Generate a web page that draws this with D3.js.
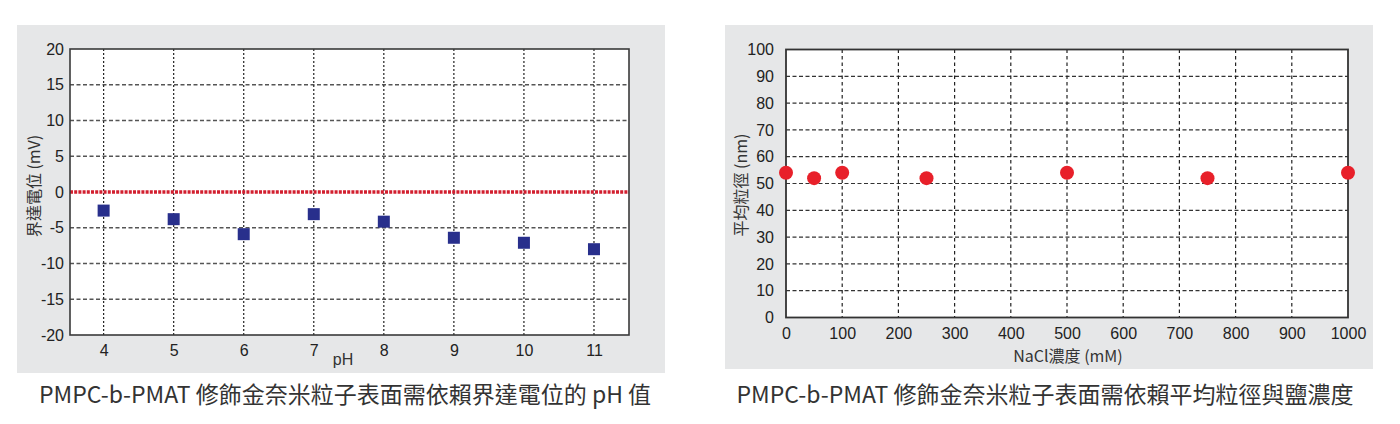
<!DOCTYPE html>
<html><head><meta charset="utf-8">
<script src="https://cdn.jsdelivr.net/npm/d3@7"></script>
<style>
body{margin:0;background:#fff;}
.num{font-family:"Liberation Sans",Arial,sans-serif;}
.cjk{font-family:"Noto Sans CJK TC","Noto Sans",sans-serif;}
</style></head><body>
<svg id="c" width="1400" height="424"></svg>
<script>
// Chart 1: zeta potential vs pH
const phValues = [4, 5, 6, 7, 8, 9, 10, 11];
const zetaValues = [-2.6, -3.8, -5.9, -3.1, -4.15, -6.4, -7.1, -8.0];
const zetaTicks = [20, 15, 10, 5, 0, -5, -10, -15, -20];
const phTicks = [4, 5, 6, 7, 8, 9, 10, 11];
// Chart 2: mean size vs NaCl
const naclValues = [0, 50, 100, 250, 500, 750, 1000];
const sizeValues = [54, 52, 54, 52, 54, 52, 54];
const sizeTicks = [0, 10, 20, 30, 40, 50, 60, 70, 80, 90, 100];
const naclTicks = [0, 100, 200, 300, 400, 500, 600, 700, 800, 900, 1000];

const fmt = d => String(d);
const svg = d3.select("#c");
function styleAxis(a){
  a.select(".domain").remove();
  a.attr("font-family", null).attr("font-size", null);
  a.selectAll("text").attr("class","num")
    .style("font-family","'Liberation Sans', Arial, sans-serif")
    .style("font-size","16px").attr("fill","#222");
}

// ---------- Chart 1 ----------
svg.append("rect").attr("x",17).attr("y",25).attr("width",648).attr("height",348).attr("fill","#e6e7e8");
const x1 = d3.scaleLinear().domain([3.52, 11.5]).range([70, 629]);
const y1 = d3.scaleLinear().domain([-20, 20]).range([335, 49]);
const g1 = svg.append("g");
g1.append("rect").attr("x",70).attr("y",49).attr("width",559).attr("height",286).attr("fill","#fff");
g1.selectAll(".hg").data(zetaTicks.filter(d=>d!==0 && Math.abs(d)!==20)).join("line")
  .attr("x1",70).attr("x2",629).attr("y1",d=>y1(d)).attr("y2",d=>y1(d))
  .attr("stroke","#555").attr("stroke-width",1.3).attr("stroke-dasharray","4,2.5");
g1.selectAll(".vg").data(phTicks).join("line")
  .attr("x1",d=>x1(d)).attr("x2",d=>x1(d)).attr("y1",49).attr("y2",335)
  .attr("stroke","#222").attr("stroke-width",1.2).attr("stroke-dasharray","2,2");
g1.append("line").attr("x1",70).attr("x2",629).attr("y1",y1(0)).attr("y2",y1(0))
  .attr("stroke","#d21f2f").attr("stroke-width",3.5).attr("stroke-dasharray","3,1.2");
g1.append("rect").attr("x",70).attr("y",49).attr("width",559).attr("height",286)
  .attr("fill","none").attr("stroke","#3a3a3a").attr("stroke-width",1.6);
const ax1 = g1.append("g").attr("transform","translate(70,0)")
  .call(d3.axisLeft(y1).tickValues(zetaTicks).tickFormat(fmt).tickSize(0).tickPadding(6));
styleAxis(ax1);
const bx1 = g1.append("g").attr("transform","translate(0,335)")
  .call(d3.axisBottom(x1).tickValues(phTicks).tickFormat(fmt).tickSize(0).tickPadding(10));
styleAxis(bx1);
g1.selectAll(".pt").data(phValues).join("rect")
  .attr("x",(d)=>x1(d)-6).attr("y",(d,i)=>y1(zetaValues[i])-6)
  .attr("width",12).attr("height",12).attr("fill","#282f8c");
g1.append("text").attr("class","num").attr("x",343).attr("y",365).attr("text-anchor","middle")
  .attr("font-size",16).attr("fill","#333").text("pH");
g1.append("text").attr("class","cjk").attr("transform","translate(40,186) rotate(-90)")
  .attr("text-anchor","middle").attr("font-size",16).attr("fill","#333").text("界達電位 (mV)");
svg.append("text").attr("class","cjk").attr("x",345).attr("y",403).attr("text-anchor","middle")
  .attr("font-size",23).attr("fill","#333").text("PMPC-b-PMAT 修飾金奈米粒子表面需依賴界達電位的 pH 值");

// ---------- Chart 2 ----------
svg.append("rect").attr("x",725).attr("y",25).attr("width",648).attr("height",344).attr("fill","#e6e7e8");
const x2 = d3.scaleLinear().domain([0, 1000]).range([786, 1348]);
const y2 = d3.scaleLinear().domain([0, 100]).range([317.5, 49.5]);
const g2 = svg.append("g");
g2.append("rect").attr("x",786).attr("y",49.5).attr("width",562).attr("height",268).attr("fill","#fff");
g2.selectAll(".hg").data(sizeTicks.filter(d=>d>0 && d<100)).join("line")
  .attr("x1",786).attr("x2",1348).attr("y1",d=>y2(d)).attr("y2",d=>y2(d))
  .attr("stroke","#333").attr("stroke-width",1.2).attr("stroke-dasharray","4,2.5");
g2.selectAll(".vg").data(naclTicks.filter(d=>d>0 && d<1000)).join("line")
  .attr("x1",d=>x2(d)).attr("x2",d=>x2(d)).attr("y1",49.5).attr("y2",317.5)
  .attr("stroke","#222").attr("stroke-width",1.2).attr("stroke-dasharray","3.5,3");
g2.append("rect").attr("x",786).attr("y",49.5).attr("width",562).attr("height",268)
  .attr("fill","none").attr("stroke","#333").attr("stroke-width",1.8);
const ax2 = g2.append("g").attr("transform","translate(786,0)")
  .call(d3.axisLeft(y2).tickValues(sizeTicks).tickFormat(fmt).tickSize(0).tickPadding(12));
styleAxis(ax2);
const bx2 = g2.append("g").attr("transform","translate(0,317.5)")
  .call(d3.axisBottom(x2).tickValues(naclTicks).tickFormat(fmt).tickSize(0).tickPadding(10));
styleAxis(bx2);
g2.selectAll(".pt").data(naclValues).join("circle")
  .attr("cx",d=>x2(d)).attr("cy",(d,i)=>y2(sizeValues[i])).attr("r",7).attr("fill","#e8202a");
g2.append("text").attr("class","cjk").attr("x",1068).attr("y",362).attr("text-anchor","middle")
  .attr("font-size",16).attr("fill","#333").text("NaCl濃度 (mM)");
g2.append("text").attr("class","cjk").attr("transform","translate(747,185) rotate(-90)")
  .attr("text-anchor","middle").attr("font-size",16).attr("fill","#333").text("平均粒徑 (nm)");
svg.append("text").attr("class","cjk").attr("x",1045).attr("y",403).attr("text-anchor","middle")
  .attr("font-size",23).attr("fill","#333").text("PMPC-b-PMAT 修飾金奈米粒子表面需依賴平均粒徑與鹽濃度");
</script></body></html>
